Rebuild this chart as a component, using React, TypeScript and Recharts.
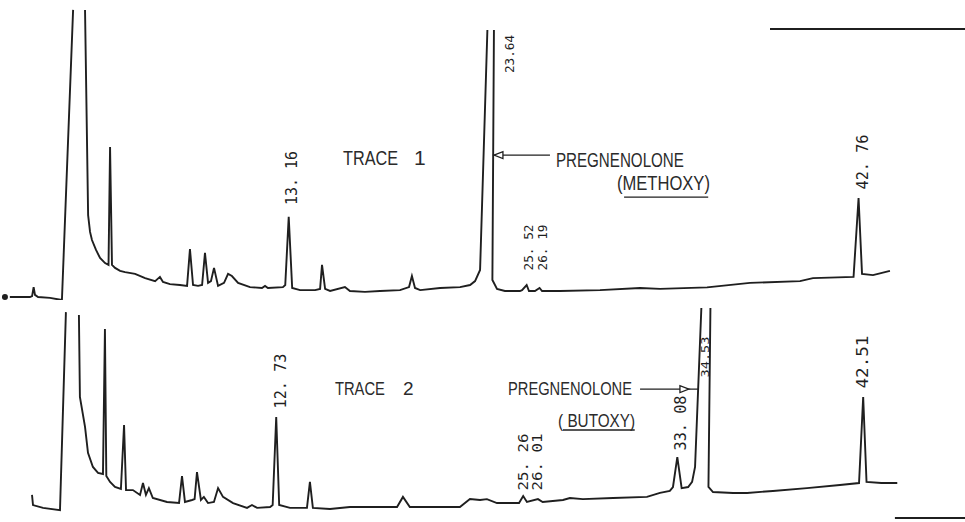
import { LineChart, Line, XAxis, YAxis, ReferenceDot, ReferenceLine } from 'recharts';

const INK = '#1f1f1f';
const LETTERING = "'Liberation Sans Narrow', 'Liberation Sans', Arial, sans-serif";
const TYPE = "'DejaVu Sans Mono', 'Liberation Mono', monospace";

// Trace 1 (methoxy derivative): retention time in minutes, response in % of full scale.
// A null lifts the pen where the trace runs off the top of the paper.
const TRACE1_RT = [
  -1.58, -0.28, -0.17, -0.09, -0.02, 0.14, 0.76, 1.38, 1.96, 2.27, 2.58, 2.74, 2.84, 2.94,
  3.15, 3.36, 3.62, 3.8, 3.88, 3.98, 4.14, 4.4, 4.66, 5.18, 5.7, 6.22, 6.47, 6.63, 6.99,
  7.51, 7.88, 8.03, 8.19, 8.45, 8.66, 8.81, 8.97, 9.12, 9.28, 9.49, 9.8, 10.01, 10.21,
  10.53, 11.15, 11.77, 11.93, 12.08, 12.86, 12.98, 13.16, 13.34, 13.75, 14.53, 14.79,
  14.89, 15.05, 15.31, 16.08, 16.34, 17.12, 17.9, 18.94, 19.41, 19.56, 19.72, 19.99,
  21.02, 22.06, 22.58, 22.84, 23.1, 23.48, 23.65, 23.82, 23.74, 23.98, 24.39, 25.17,
  25.28, 25.52, 25.64, 25.95, 26.19, 26.32, 27.25, 29.33, 31.41, 32.45, 34.89, 37.12,
  39.72, 40.39, 42.5, 42.76, 42.94, 43.51, 44.39,
];
const TRACE1_SIGNAL: (number | null)[] = [
  1.0, 1.0, 1.3, 4.3, 1.7, 1.0, 0.7, 0, 96.7, null, 96.7, 28.3, 22.7, 20,
  16.7, 14, 12.3, 11.7, 51, 11.7, 10.7, 9.7, 9.3, 8.7, 7.3, 6.3, 7.7, 6.0, 5.3,
  5.0, 4.7, 17, 5.0, 4.7, 5.0, 15.7, 5.7, 6.3, 10.7, 4.7, 5.7, 8.7, 8.0,
  5.7, 4.3, 4.0, 4.7, 4.0, 4.3, 5.0, 27.7, 4.0, 3.3, 3.3, 3.7,
  11.7, 3.7, 3.0, 4.3, 3.0, 2.7, 3.0, 3.3, 4.3, 8.0, 4.0, 3.3,
  4.0, 4.3, 5.0, 6.3, 10.0, 90, null, 90, 6.7, 3.7, 3.0, 3.0,
  3.3, 5.0, 3.0, 3.0, 4.0, 3.0, 3.0, 3.3, 4.0, 3.7, 4.2, 5.7,
  6.3, 7.3, 7.7, 34, 8.7, 8.3, 9.7,
];

// Trace 2 (butoxy derivative)
const TRACE2_RT = [
  0.34, 0.39, 0.9, 1.76, 2.06, 2.4, 2.72, 2.77, 3.03, 3.18, 3.43, 3.69, 3.94, 4.04, 4.11,
  4.3, 4.55, 4.85, 5.01, 5.11, 5.46, 5.82, 5.97, 6.12, 6.27, 6.47, 7.19, 7.8, 7.95, 8.1,
  8.46, 8.59, 8.71, 8.91, 9.06, 9.27, 9.57, 9.78, 10.03, 10.54, 11.25, 11.5, 11.76,
  12.42, 12.55, 12.73, 12.88, 13.43, 14.29, 14.44, 14.59, 15.46, 16.47, 18.86, 19.16,
  19.51, 20.53, 22.05, 22.56, 23.07, 23.42, 23.93, 24.59, 25.05, 25.26, 25.45, 26.01,
  26.25, 27.28, 27.63, 28.29, 29.82, 31.54, 32.2, 32.7, 32.86, 33.08, 33.3, 33.63, 33.83,
  33.98, 34.3, 34.53, 34.76, 34.66, 34.89, 35.91, 36.62, 37.93, 39.66, 41.33, 42.3,
  42.51, 42.68, 43.43, 44.24,
];
const TRACE2_SIGNAL: (number | null)[] = [
  11.4, 6.8, 5.5, 4.5, 94.5, null, 93.2, 55.9, 42.3, 30.5, 24.1, 21.4, 20.9, 86.8, 20.0,
  17.3, 15.0, 14.1, 43.2, 13.6, 13.6, 11.4, 16.8, 11.4, 14.5, 10.0, 8.2, 7.7, 20.0, 8.2,
  9.1, 9.5, 21.8, 9.1, 10.5, 7.7, 8.2, 14.5, 10.5, 7.7, 5.5, 6.8, 5.5,
  5.9, 6.8, 46.8, 6.8, 5.5, 5.5, 17.3, 5.5, 5.0, 5.9, 5.9, 10.5,
  5.9, 5.9, 5.9, 9.5, 9.1, 9.5, 7.7, 7.7, 7.7, 10.9, 8.2, 9.5,
  8.2, 9.1, 10.0, 9.5, 10.0, 10.5, 12.3, 13.2, 15.0, 28.6, 14.5, 15.0, 17.3,
  24.1, 96.4, null, 96.4, 15.0, 12.7, 12.3, 12.3, 13.2, 14.5, 15.9, 16.8,
  55.9, 17.3, 16.8, 16.8,
];

// retention times printed against the peaks
const TRACE1_PEAKS = ['13. 16', '23.64', '25. 52', '26. 19', '42. 76'];
const TRACE1_PEAK_RT = [13.16, 23.64, 25.52, 26.19, 42.76];
const TRACE2_PEAKS = ['12. 73', '25. 26', '26. 01', '33. 08', '34.53', '42.51'];
const TRACE2_PEAK_RT = [12.73, 25.26, 26.01, 33.08, 34.53, 42.51];

// tag placement: [x nudge px, centre height %, font size, text length]
const TRACE1_TAG_LAYOUT = [
  [3.3, 40.7, 15, 54],
  [19.5, 82, 13, 38],
  [1.5, 17.5, 13, 46],
  [2.5, 17.5, 13, 46],
  [4.5, 46, 15, 55],
];
const TRACE2_TAG_LAYOUT = [
  [5, 63.2, 15, 55],
  [0, 26.4, 14, 57],
  [-1, 26.4, 14, 57],
  [4, 44.1, 15, 55],
  [0, 74.1, 11, 41],
  [0, 71.8, 15, 53],
];

const toRows = (rt: number[], sig: (number | null)[]) => rt.map((t, i) => ({ t, v: sig[i] }));

function PeakTag(props: any) {
  const { cx, cy, text, dx, size, len } = props;
  const x = cx + dx;
  return (
    <text
      x={x}
      y={cy}
      transform={`rotate(-90 ${x} ${cy})`}
      textAnchor="middle"
      dominantBaseline="central"
      fontFamily={TYPE}
      fontSize={size}
      textLength={len}
      lengthAdjust="spacingAndGlyphs"
      fill={INK}
    >
      {text}
    </text>
  );
}

function Note(props: any) {
  const { cx, cy, text, size, len } = props;
  return (
    <text
      x={cx}
      y={cy}
      fontFamily={LETTERING}
      fontSize={size}
      textLength={len}
      lengthAdjust={len ? 'spacingAndGlyphs' : undefined}
      fill="#2b2b2b"
    >
      {text}
    </text>
  );
}

function Arrowhead(props: any) {
  const { cx, cy, dir } = props;
  const back = cx - dir * 9;
  return (
    <polygon
      points={`${cx},${cy} ${back},${cy - 3.5} ${back},${cy + 3.5}`}
      fill="#fff"
      stroke={INK}
      strokeWidth={1.3}
    />
  );
}

const seg = (t0: number, t1: number, v: number) => [
  { x: t0, y: v },
  { x: t1, y: v },
];

function peakTags(names: string[], rts: number[], layout: number[][]) {
  return names.map((text, i) => {
    const [dx, v, size, len] = layout[i];
    return (
      <ReferenceDot
        key={text}
        x={rts[i]}
        y={v}
        r={1}
        ifOverflow="visible"
        shape={(p: any) => <PeakTag {...p} text={text} dx={dx} size={size} len={len} />}
      />
    );
  });
}

function note(key: string, t: number, v: number, text: string, size: number, len?: number) {
  return (
    <ReferenceDot
      key={key}
      x={t}
      y={v}
      r={1}
      ifOverflow="visible"
      shape={(p: any) => <Note {...p} text={text} size={size} len={len} />}
    />
  );
}

export default function App() {
  const rows1 = toRows(TRACE1_RT, TRACE1_SIGNAL);
  const rows2 = toRows(TRACE2_RT, TRACE2_SIGNAL);

  return (
    <div style={{ position: 'absolute', left: 0, top: 0, width: 965, height: 522, background: '#fff' }}>
      <div style={{ position: 'absolute', left: 0, top: 0 }}>
        <LineChart width={965} height={300} data={rows1} margin={{ top: 0, right: 0, bottom: 0, left: 0 }}>
          <XAxis type="number" dataKey="t" domain={[-1.837, 48.289]} allowDataOverflow hide />
          <YAxis type="number" domain={[0, 100]} allowDataOverflow hide />
          <Line
            type="linear"
            dataKey="v"
            stroke={INK}
            strokeWidth={1.9}
            dot={false}
            connectNulls={false}
            isAnimationActive={false}
          />
          {peakTags(TRACE1_PEAKS, TRACE1_PEAK_RT, TRACE1_TAG_LAYOUT)}
          {note('t1a', 15.98, 45, 'TRACE', 21, 55)}
          {note('t1b', 19.67, 45, '1', 21)}
          {note('t1c', 27.04, 44.3, 'PREGNENOLONE', 20, 128)}
          {note('t1d', 30.21, 36.7, '(METHOXY)', 20, 93)}
          <ReferenceLine segment={seg(30.58, 34.95, 34.3)} stroke={INK} strokeWidth={1.3} ifOverflow="visible" />
          <ReferenceLine segment={seg(23.82, 26.73, 48.3)} stroke={INK} strokeWidth={1.4} ifOverflow="visible" />
          <ReferenceDot
            x={23.82}
            y={48.3}
            r={1}
            ifOverflow="visible"
            shape={(p: any) => <Arrowhead {...p} dir={-1} />}
          />
          <ReferenceLine segment={seg(38.16, 48.289, 90.3)} stroke={INK} strokeWidth={2} ifOverflow="visible" />
        </LineChart>
      </div>
      <div style={{ position: 'absolute', left: 0, top: 300 }}>
        <LineChart width={965} height={220} data={rows2} margin={{ top: 0, right: 0, bottom: 0, left: 0 }}>
          <XAxis type="number" dataKey="t" domain={[-1.284, 47.676]} allowDataOverflow hide />
          <YAxis type="number" domain={[0, 100]} allowDataOverflow hide />
          <Line
            type="linear"
            dataKey="v"
            stroke={INK}
            strokeWidth={1.9}
            dot={false}
            connectNulls={false}
            isAnimationActive={false}
          />
          {peakTags(TRACE2_PEAKS, TRACE2_PEAK_RT, TRACE2_TAG_LAYOUT)}
          {note('t2a', 15.71, 56.8, 'TRACE', 19, 50)}
          {note('t2b', 19.16, 56.8, '2', 19)}
          {note('t2c', 24.49, 56.8, 'PREGNENOLONE', 19, 124)}
          {note('t2d', 27.03, 42.3, '( BUTOXY)', 19, 77)}
          <ReferenceLine segment={seg(27.28, 30.92, 40.9)} stroke={INK} strokeWidth={1.3} ifOverflow="visible" />
          <ReferenceLine segment={seg(31.19, 34.18, 59.5)} stroke={INK} strokeWidth={1.4} ifOverflow="visible" />
          <ReferenceDot
            x={33.67}
            y={59.5}
            r={1}
            ifOverflow="visible"
            shape={(p: any) => <Arrowhead {...p} dir={1} />}
          />
          <ReferenceLine segment={seg(44.12, 47.676, 0.9)} stroke={INK} strokeWidth={2} ifOverflow="visible" />
        </LineChart>
      </div>
    </div>
  );
}
